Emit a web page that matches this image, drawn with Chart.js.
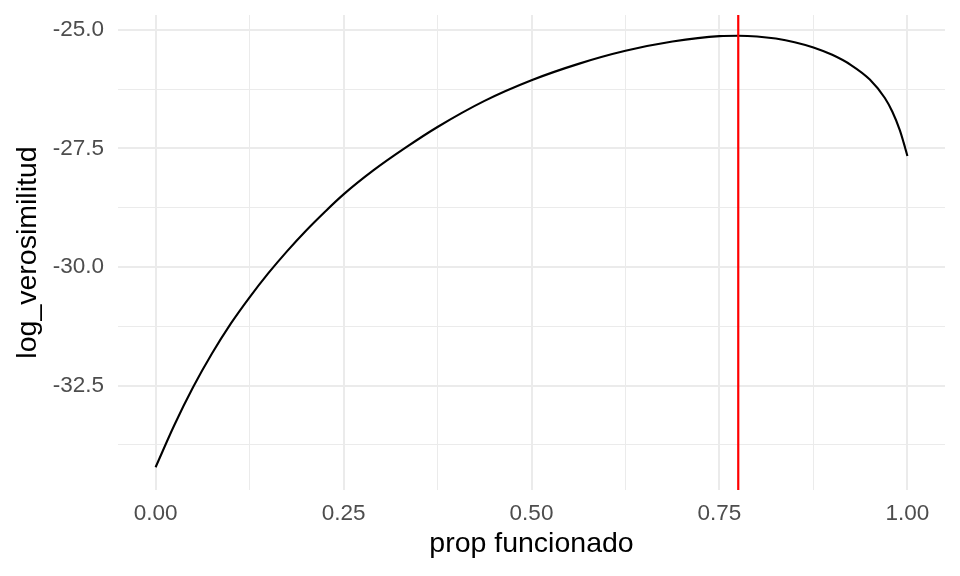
<!DOCTYPE html>
<html><head><meta charset="utf-8">
<script src="https://cdn.jsdelivr.net/npm/chart.js@4.4.1/dist/chart.umd.min.js"></script>
<style>html,body{margin:0;padding:0;background:#fff}#wrap{width:960px;height:576px}</style>
</head><body><div id="wrap"><canvas id="c" width="960" height="576"></canvas></div>
<script>
const propValues = [0, 0.025, 0.05, 0.075, 0.1, 0.125, 0.15, 0.175, 0.2, 0.225, 0.25, 0.29, 0.333, 0.375, 0.4375, 0.5, 0.5625, 0.625, 0.6875, 0.75, 0.775, 0.8, 0.825, 0.85, 0.875, 0.9, 0.925, 0.95, 0.97, 0.98, 0.99, 0.995, 1.0];
const logVerosimilitud = [-34.22, -33.33, -32.53, -31.825, -31.195, -30.64, -30.13, -29.665, -29.235, -28.84, -28.47, -27.96, -27.48, -27.05, -26.50, -26.065, -25.72, -25.445, -25.25, -25.135, -25.127, -25.142, -25.187, -25.263, -25.374, -25.529, -25.744, -26.05, -26.44, -26.73, -27.12, -27.38, -27.66];
const propMax = 0.775;
const xMajorTicks = [0, 0.25, 0.5, 0.75, 1];
const xMinorTicks = [0.125, 0.375, 0.625, 0.875];
const yMajorTicks = [-32.5, -30, -27.5, -25];
const yMinorTicks = [-33.75, -31.25, -28.75, -26.25];
const xLimits = [-0.05, 1.05];
const yLimits = [-34.70, -24.69];

const FONT = '"Liberation Sans", Arial, Helvetica, sans-serif';
const curve = propValues.map((p, i) => ({x: p, y: logVerosimilitud[i]}));
const vline = [{x: propMax, y: yLimits[0]}, {x: propMax, y: yLimits[1]}];

function noPad(s) { s.paddingTop = 0; s.paddingBottom = 0; s.paddingLeft = 0; s.paddingRight = 0; }

new Chart(document.getElementById('c'), {
  type: 'scatter',
  data: {
    datasets: [
      {data: vline, showLine: true, borderColor: '#FF0000', borderWidth: 2.2, pointRadius: 0, order: 0, clip: false},
      {data: curve, showLine: true, borderColor: '#000000', borderWidth: 2.1, pointRadius: 0, cubicInterpolationMode: 'monotone', order: 1}
    ]
  },
  options: {
    responsive: false,
    devicePixelRatio: 1,
    animation: false,
    layout: {padding: {top: 15, right: 15, left: 0, bottom: 0}},
    plugins: {legend: {display: false}, tooltip: {enabled: false}},
    scales: {
      x: {
        type: 'linear', min: xLimits[0], max: xLimits[1],
        afterBuildTicks: s => { s.ticks = [...xMajorTicks, ...xMinorTicks].sort((a,b)=>a-b).map(v => ({value: v})); },
        afterFit: s => { s.height = 86; noPad(s); },
        ticks: {
          autoSkip: false, maxRotation: 0, padding: 10, color: '#4D4D4D',
          font: {family: FONT, size: 22.5},
          callback: v => xMajorTicks.includes(v) ? v.toFixed(2) : ''
        },
        grid: {color: '#EBEBEB', drawTicks: false, lineWidth: c => (c.tick && xMajorTicks.includes(c.tick.value)) ? 2 : 1},
        border: {display: false},
        title: {display: true, text: 'prop funcionado', color: '#000000', font: {family: FONT, size: 28.5}, padding: {top: 0, bottom: 15}}
      },
      y: {
        type: 'linear', min: yLimits[0], max: yLimits[1],
        afterBuildTicks: s => { s.ticks = [...yMajorTicks, ...yMinorTicks].sort((a,b)=>a-b).map(v => ({value: v})); },
        afterFit: s => { s.width = 118; noPad(s); },
        ticks: {
          autoSkip: false, padding: 14, color: '#4D4D4D',
          font: {family: FONT, size: 22.5},
          callback: v => yMajorTicks.includes(v) ? v.toFixed(1) : ''
        },
        grid: {color: '#EBEBEB', drawTicks: false, lineWidth: c => (c.tick && yMajorTicks.includes(c.tick.value)) ? 2 : 1},
        border: {display: false},
        title: {display: true, text: 'log_verosimilitud', color: '#000000', font: {family: FONT, size: 28.5}, padding: {top: 11, bottom: 0}}
      }
    }
  }
});
</script>
</body></html>
